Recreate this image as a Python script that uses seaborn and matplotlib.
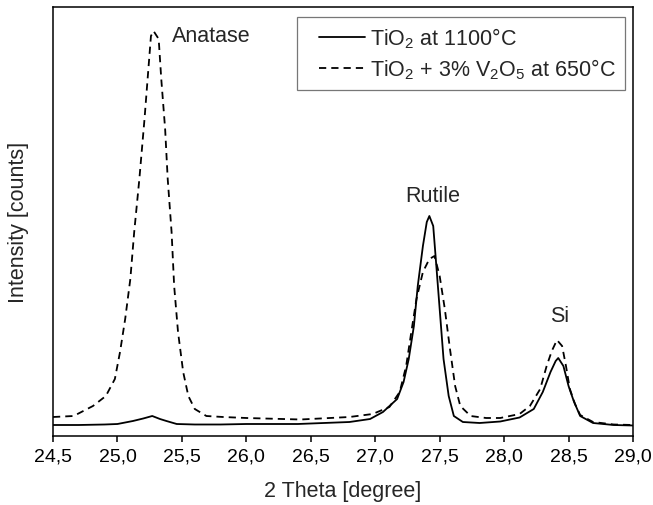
import numpy as np
import pandas as pd
import matplotlib
matplotlib.use("Agg")
import matplotlib.pyplot as plt
import seaborn as sns
from matplotlib.ticker import FuncFormatter
from matplotlib.lines import Line2D
from matplotlib.legend_handler import HandlerLine2D

# ---- data (2 theta [deg], intensity [arb. counts]) ----
label_solid = r"TiO$_\mathregular{2}$ at 1100°C"
label_dashed = r"TiO$_\mathregular{2}$ + 3% V$_\mathregular{2}$O$_\mathregular{5}$ at 650°C"

solid_x = [24.50, 24.70, 24.90, 25.00, 25.12, 25.20, 25.27, 25.33, 25.38, 25.46,
           25.60, 25.80, 26.00, 26.40, 26.80, 26.96, 27.06, 27.17, 27.22, 27.26,
           27.30, 27.33, 27.37, 27.40, 27.42, 27.45, 27.47, 27.50, 27.53, 27.57,
           27.61, 27.68, 27.81, 27.97, 28.12, 28.23, 28.30, 28.36, 28.40, 28.42,
           28.46, 28.50, 28.54, 28.59, 28.69, 28.85, 29.00]
solid_y = [110, 110, 115, 120, 150, 175, 200, 170, 150, 120,
           115, 115, 120, 120, 140, 170, 240, 370, 540, 770,
           1100, 1500, 1900, 2140, 2200, 2100, 1770, 1270, 770, 400,
           200, 140, 130, 145, 185, 270, 440, 640, 750, 780,
           700, 500, 350, 200, 130, 110, 105]

dashed_x = [24.50, 24.66, 24.81, 24.91, 24.98, 25.02, 25.06, 25.10, 25.13, 25.17,
            25.21, 25.24, 25.26, 25.28, 25.32, 25.34, 25.37, 25.39, 25.42, 25.44,
            25.47, 25.51, 25.55, 25.60, 25.69, 25.82, 26.00, 26.42, 26.80, 26.98,
            27.11, 27.19, 27.24, 27.28, 27.32, 27.37, 27.42, 27.46, 27.50, 27.54,
            27.58, 27.62, 27.66, 27.74, 27.86, 27.97, 28.12, 28.20, 28.28, 28.33,
            28.37, 28.41, 28.45, 28.48, 28.51, 28.55, 28.59, 28.69, 28.85, 29.00]
dashed_y = [190, 200, 300, 400, 570, 840, 1170, 1570, 2040, 2570,
            3170, 3670, 4000, 4050, 3970, 3570, 3070, 2570, 2040, 1500,
            1040, 640, 400, 270, 200, 190, 180, 165, 190, 220,
            290, 440, 700, 1040, 1370, 1640, 1770, 1800, 1600, 1270,
            870, 500, 300, 200, 180, 180, 220, 300, 470, 700,
            850, 960, 900, 700, 470, 320, 210, 140, 115, 110]

peak_labels = ["Anatase", "Rutile", "Si"]
peak_label_x = [25.73, 27.45, 28.43]
peak_label_y = [4000, 2410, 1210]

x_ticks = [24.5, 25.0, 25.5, 26.0, 26.5, 27.0, 27.5, 28.0, 28.5, 29.0]

# ---- build long-form table ----
df = pd.concat([
    pd.DataFrame({"two_theta": solid_x, "intensity": solid_y, "sample": label_solid}),
    pd.DataFrame({"two_theta": dashed_x, "intensity": dashed_y, "sample": label_dashed}),
], ignore_index=True)

sns.set_style("ticks")
plt.rcParams["font.family"] = ["Liberation Sans", "DejaVu Sans"]
plt.rcParams["mathtext.fontset"] = "custom"
plt.rcParams["mathtext.rm"] = "Liberation Sans"
plt.rcParams["mathtext.it"] = "Liberation Sans:italic"
plt.rcParams["mathtext.bf"] = "Liberation Sans:bold"

fig = plt.figure(figsize=(6.53, 5.06), dpi=100)
ax = fig.add_axes([53 / 653, 1 - 437 / 506, 580 / 653, 429 / 506])

lw = 1.3
sns.lineplot(data=df, x="two_theta", y="intensity", style="sample",
             style_order=[label_solid, label_dashed],
             dashes={label_solid: "", label_dashed: (4.0, 2.8)},
             color="black", linewidth=lw, sort=False, estimator=None,
             ax=ax)

ax.set_xlim(24.5, 29.0)
ax.set_ylim(0, 4290)
ax.set_xticks(x_ticks)
ax.xaxis.set_major_formatter(FuncFormatter(lambda v, p: f"{v:.1f}".replace(".", ",")))
ax.set_yticks([])
ax.tick_params(axis="x", direction="out", length=4.5, width=1.1, labelsize=14,
               pad=4, colors="black")
for s in ax.spines.values():
    s.set_linewidth(1.1)
    s.set_color("black")
    s.set_visible(True)

ax.set_xlabel("2 Theta [degree]", fontsize=15.5, labelpad=11)
ax.set_ylabel("Intensity [counts]", fontsize=15.5, labelpad=17)

for t, xx, yy in zip(peak_labels, peak_label_x, peak_label_y):
    ax.text(xx, yy, t, ha="center", va="center", fontsize=15.5)

leg = ax.legend(loc="upper right", bbox_to_anchor=(0.986, 0.977),
                borderaxespad=0, frameon=True, fancybox=False,
                fontsize=15.5, handlelength=2.75, handletextpad=0.25,
                labelspacing=0.3, borderpad=0.4, title=None,
                handler_map={Line2D: HandlerLine2D(xpad=0.6)})
leg.get_frame().set_edgecolor("#555555")
leg.get_frame().set_linewidth(0.9)
for line in leg.get_lines():
    line.set_linewidth(lw)

fig.savefig("out.png", dpi=100)
